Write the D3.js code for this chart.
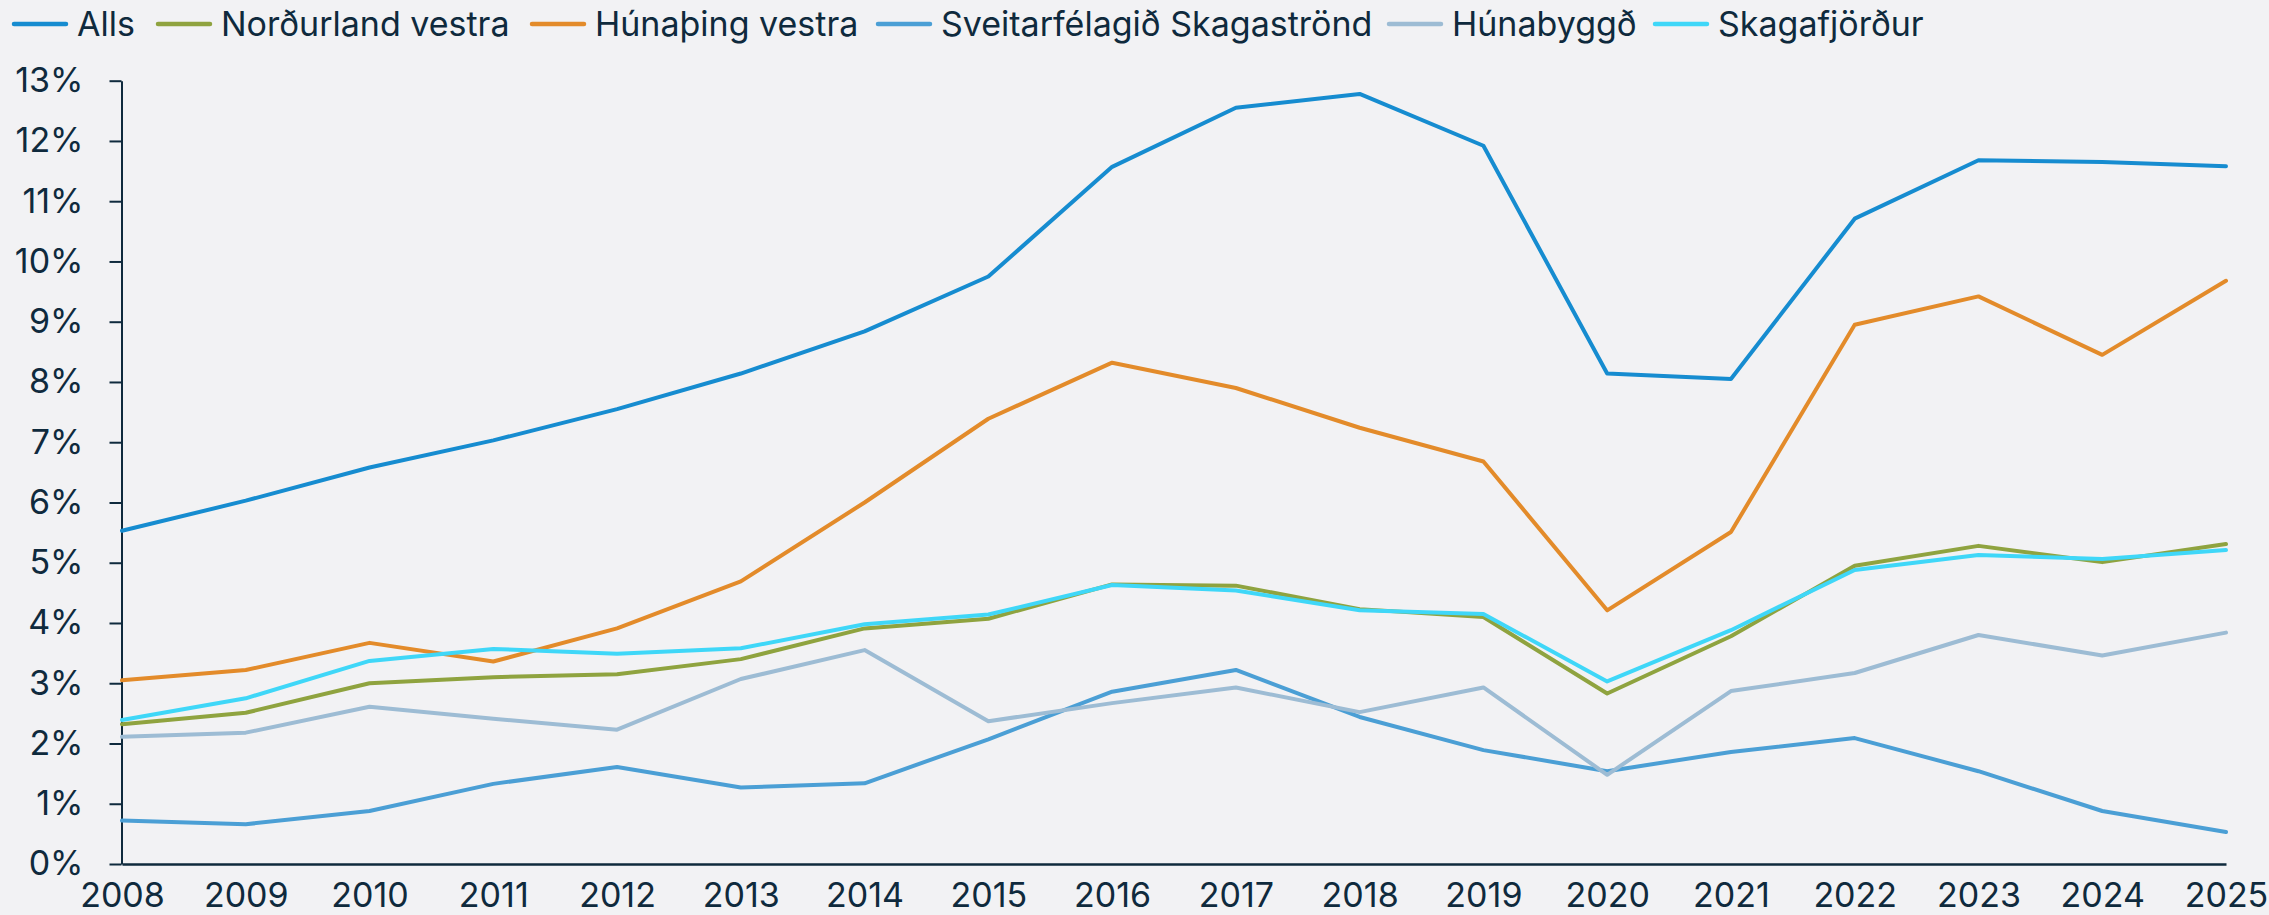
<!DOCTYPE html>
<html>
<head>
<meta charset="utf-8">
<script src="https://cdn.jsdelivr.net/npm/d3@7"></script>
<style>
  html, body { margin: 0; padding: 0; background: #f2f2f4; }
  svg { display: block; }
  text { font-family: Inter, "Open Sans", sans-serif; fill: #0f2a3d; }
</style>
</head>
<body>
<svg id="chart" width="2269" height="915"></svg>
<script>
const years = [2008, 2009, 2010, 2011, 2012, 2013, 2014, 2015, 2016, 2017, 2018, 2019, 2020, 2021, 2022, 2023, 2024, 2025];

const alls         = [5.53, 6.03, 6.58, 7.03, 7.55, 8.14, 8.84, 9.75, 11.57, 12.55, 12.78, 11.92, 8.14, 8.05, 10.71, 11.68, 11.65, 11.58];
const nordurland   = [2.32, 2.51, 3.00, 3.10, 3.15, 3.40, 3.91, 4.07, 4.64, 4.62, 4.23, 4.10, 2.83, 3.78, 4.95, 5.28, 5.01, 5.31];
const hunathing    = [3.05, 3.22, 3.67, 3.36, 3.91, 4.69, 6.00, 7.39, 8.32, 7.90, 7.24, 6.68, 4.21, 5.51, 8.95, 9.42, 8.45, 9.68];
const skagastrond  = [0.72, 0.66, 0.88, 1.33, 1.61, 1.27, 1.34, 2.07, 2.86, 3.22, 2.44, 1.89, 1.54, 1.86, 2.09, 1.54, 0.88, 0.53];
const hunabyggd    = [2.11, 2.18, 2.61, 2.41, 2.23, 3.07, 3.55, 2.37, 2.67, 2.93, 2.52, 2.93, 1.48, 2.87, 3.17, 3.80, 3.46, 3.84];
const skagafjordur = [2.39, 2.75, 3.37, 3.57, 3.49, 3.58, 3.98, 4.14, 4.63, 4.54, 4.21, 4.15, 3.03, 3.88, 4.88, 5.13, 5.06, 5.21];

const seriesNames = ["Alls", "Norðurland vestra", "Húnaþing vestra", "Sveitarfélagið Skagaströnd", "Húnabyggð", "Skagafjörður"];
const seriesValues = [alls, nordurland, hunathing, skagastrond, hunabyggd, skagafjordur];
const seriesColors = ["#168cd0", "#8fa33f", "#e38b2a", "#4b9fd5", "#9dbcd4", "#3fd7f8"];

const yTicks = [0, 1, 2, 3, 4, 5, 6, 7, 8, 9, 10, 11, 12, 13];

const svg = d3.select("#chart");
const axisColor = "#0f2a3d";
const fontSize = 34;
const fontFamily = "Inter, 'Open Sans', sans-serif";

const x = d3.scaleLinear().domain([2008, 2025]).range([122, 2226]);
const y = d3.scaleLinear().domain([0, 13]).range([864, 80.7]);

// Y axis
const yAxis = svg.append("g")
  .attr("transform", "translate(121.5,0)")
  .call(d3.axisLeft(y).tickValues(yTicks).tickFormat(d => d + "%").tickSize(12).tickSizeOuter(0).tickPadding(26));
yAxis.selectAll("path.domain").attr("stroke", axisColor).attr("stroke-width", 2);
yAxis.selectAll(".tick line").attr("stroke", axisColor).attr("stroke-width", 2);
yAxis.selectAll(".tick text").attr("font-size", fontSize).attr("font-family", fontFamily).attr("fill", "#0f2a3d");

// X axis
const xAxis = svg.append("g")
  .attr("transform", "translate(0,864)")
  .call(d3.axisBottom(x).tickValues(years).tickFormat(d3.format("d")).tickSize(0).tickSizeOuter(0).tickPadding(19));
xAxis.selectAll("path.domain").attr("stroke", axisColor).attr("stroke-width", 2.5);
xAxis.selectAll(".tick text").attr("font-size", fontSize).attr("font-family", fontFamily).attr("fill", "#0f2a3d");

// Lines
const line = d3.line().x((d, i) => x(years[i])).y(d => y(d));
svg.append("g").selectAll("path.series")
  .data(seriesValues)
  .join("path")
  .attr("class", "series")
  .attr("d", line)
  .attr("fill", "none")
  .attr("stroke", (d, i) => seriesColors[i])
  .attr("stroke-width", 4)
  .attr("stroke-linejoin", "round")
  .attr("stroke-linecap", "round");

// Legend
const legendX = [14, 158, 532, 878, 1389, 1655];
const legend = svg.append("g").selectAll("g.item")
  .data(seriesNames)
  .join("g")
  .attr("class", "item")
  .attr("transform", (d, i) => `translate(${legendX[i]},24)`);
legend.append("line")
  .attr("x1", 0).attr("x2", 52).attr("y1", 0).attr("y2", 0)
  .attr("stroke", (d, i) => seriesColors[i])
  .attr("stroke-width", 4.5)
  .attr("stroke-linecap", "round");
legend.append("text")
  .attr("x", 63)
  .attr("y", 0)
  .attr("dy", "0.36em")
  .attr("font-size", fontSize)
  .text(d => d);
</script>
</body>
</html>
